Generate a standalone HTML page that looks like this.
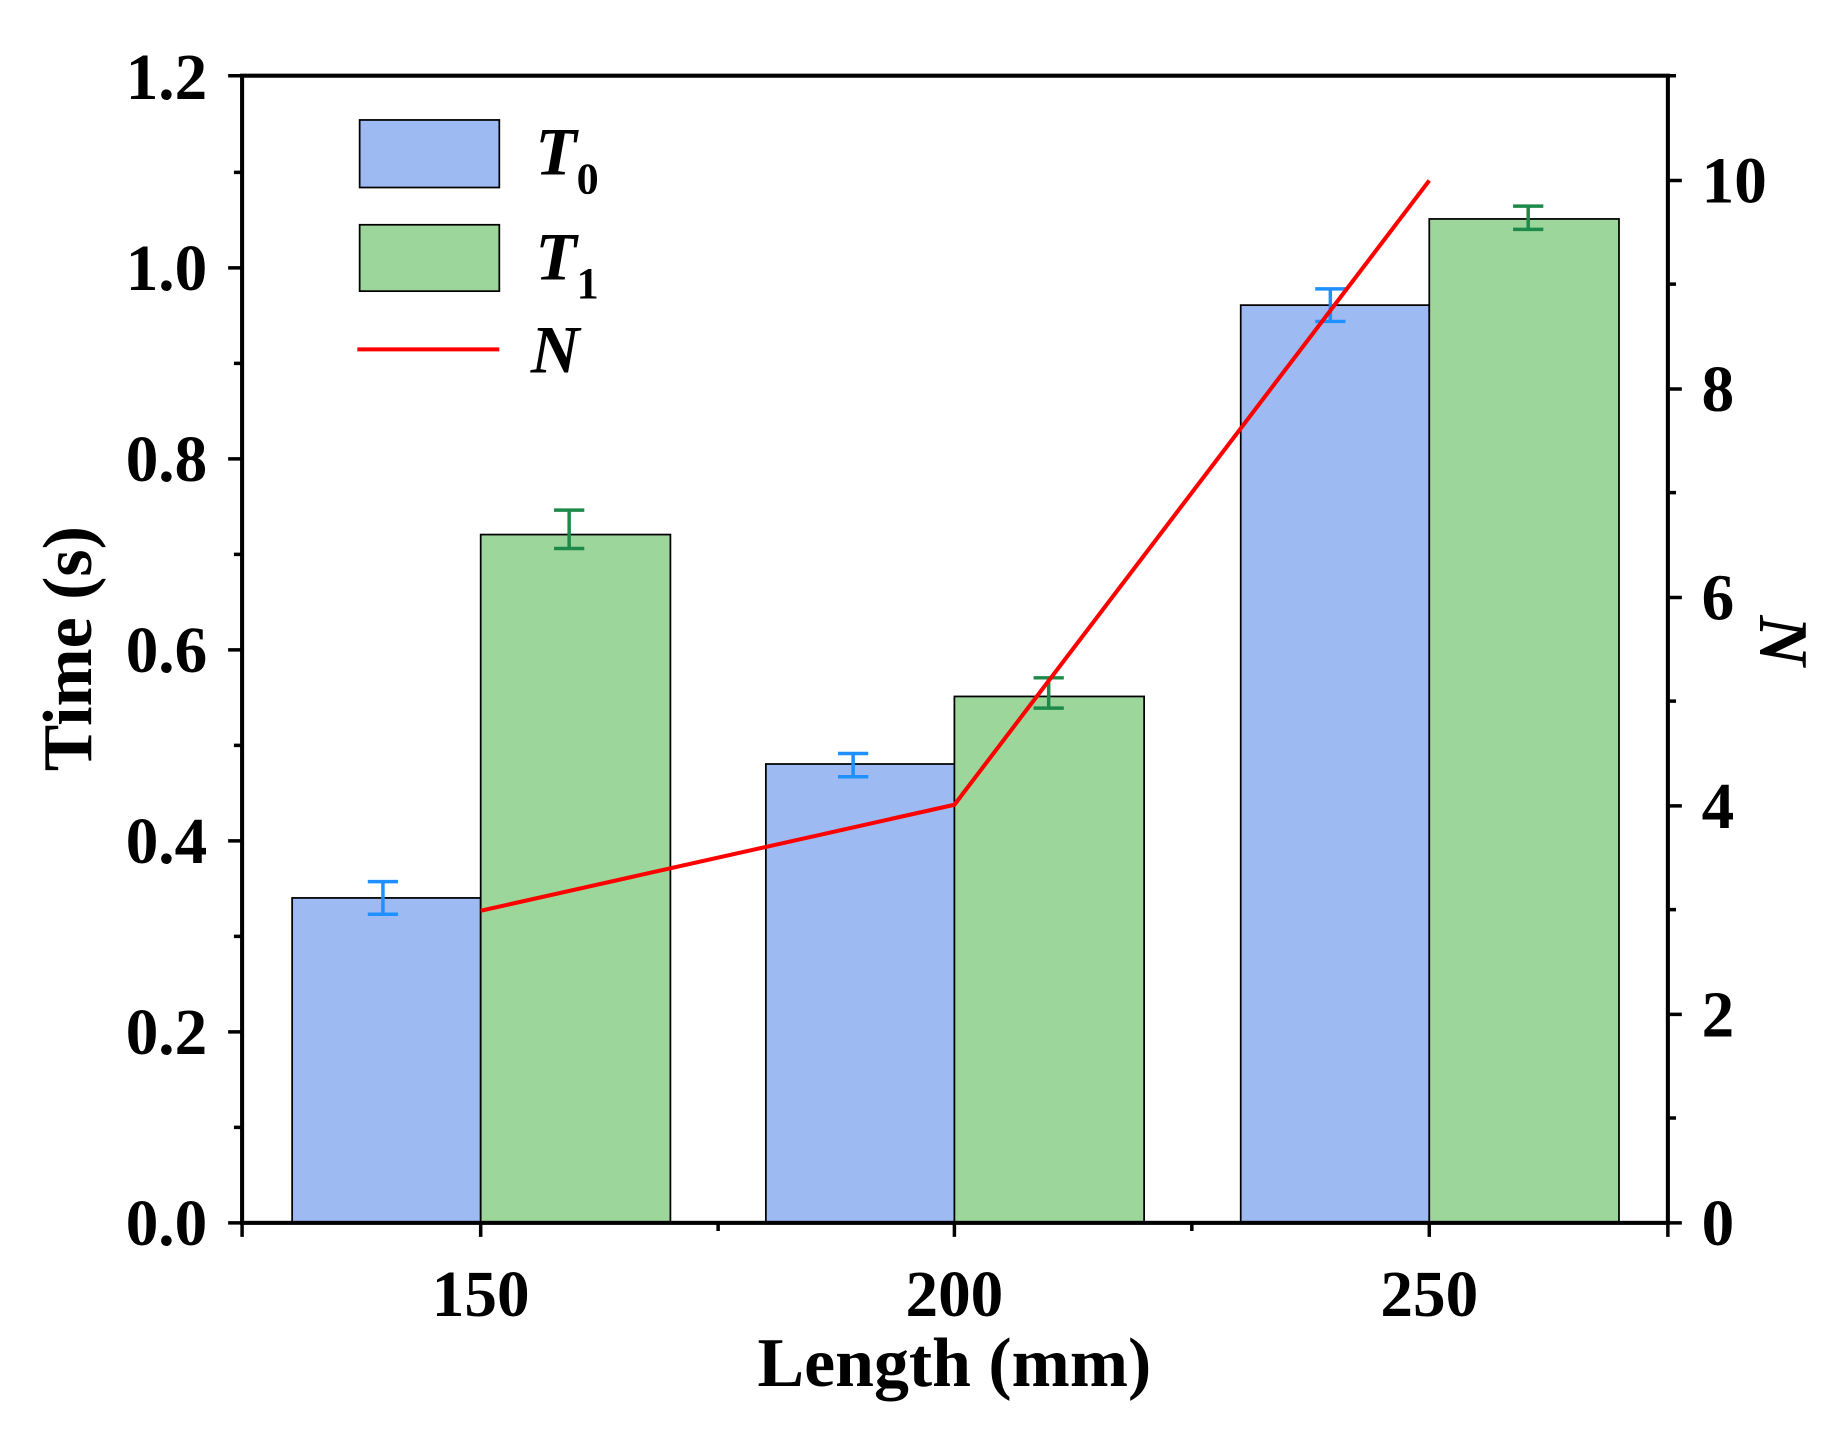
<!DOCTYPE html>
<html><head><style>html,body{margin:0;padding:0;background:#fff}svg{display:block}</style></head>
<body>
<svg width="1825" height="1429" viewBox="0 0 1568 1227" preserveAspectRatio="none" xmlns="http://www.w3.org/2000/svg" font-family="Liberation Serif, serif" font-weight="bold">
<rect width="1568" height="1227" fill="#fff"/>
<g stroke="#000" stroke-width="1.5">
<rect x="251" y="771" width="162" height="279" fill="#9dbbf2"/>
<rect x="413" y="459" width="163" height="591" fill="#9dd69b"/>
<rect x="658" y="656" width="162" height="394" fill="#9dbbf2"/>
<rect x="820" y="598" width="163" height="452" fill="#9dd69b"/>
<rect x="1066" y="262" width="162" height="788" fill="#9dbbf2"/>
<rect x="1228" y="188" width="163" height="862" fill="#9dd69b"/>
</g>
<g stroke="#1e90ff" stroke-width="3" fill="none">
<path d="M329 757V785M316 757H342M316 785H342"/>
<path d="M733 647V667M720 647H746M720 667H746"/>
<path d="M1143 248V276M1130 248H1156M1130 276H1156"/>
</g>
<g stroke="#1e8a4a" stroke-width="3" fill="none">
<path d="M489 438V471M476 438H502M476 471H502"/>
<path d="M901 582V608M888 582H914M888 608H914"/>
<path d="M1313 177V197M1300 177H1326M1300 197H1326"/>
</g>
<polyline points="413,782 820,691 1228,155" fill="none" stroke="#ff0000" stroke-width="3.5"/>
<rect x="208" y="65" width="1225" height="985" fill="none" stroke="#000" stroke-width="3.5"/>
<g stroke="#000" stroke-width="3">
<path d="M208 1050H196M208 886H196M208 722H196M208 558H196M208 394H196M208 230H196M208 65H196"/>
<path d="M208 968H201M208 804H201M208 640H201M208 476H201M208 312H201M208 148H201"/>
<path d="M1433 1050H1445M1433 871H1445M1433 692H1445M1433 513H1445M1433 334H1445M1433 155H1445"/>
<path d="M1433 960H1440M1433 781H1440M1433 602H1440M1433 423H1440M1433 244H1440M1433 65H1440"/>
<path d="M413 1050V1062M820 1050V1062M1228 1050V1062M208 1050V1062M1433 1050V1062"/>
<path d="M617 1050V1057M1024 1050V1057"/>
</g>
<g font-size="56" text-anchor="end">
<text x="178" y="1069">0.0</text>
<text x="178" y="905">0.2</text>
<text x="178" y="741">0.4</text>
<text x="178" y="577">0.6</text>
<text x="178" y="413">0.8</text>
<text x="178" y="249">1.0</text>
<text x="178" y="85">1.2</text>
</g>
<g font-size="56" text-anchor="start">
<text x="1462" y="1069">0</text>
<text x="1462" y="890">2</text>
<text x="1462" y="711">4</text>
<text x="1462" y="532">6</text>
<text x="1462" y="353">8</text>
<text x="1462" y="174">10</text>
</g>
<g font-size="56" text-anchor="middle">
<text x="413" y="1130">150</text>
<text x="820" y="1130">200</text>
<text x="1228" y="1130">250</text>
<text x="820" y="1190" font-size="60">Length (mm)</text>
</g>
<text transform="translate(78,557) rotate(-90)" font-size="60" text-anchor="middle">Time (s)</text>
<text transform="translate(1512,550) rotate(90)" font-size="60" font-style="italic" text-anchor="middle">N</text>
<rect x="309" y="103" width="120" height="58" fill="#9dbbf2" stroke="#000" stroke-width="1.5"/>
<rect x="309" y="193" width="120" height="57" fill="#9dd69b" stroke="#000" stroke-width="1.5"/>
<path d="M307 300H429" stroke="#ff0000" stroke-width="3.5"/>
<g font-size="58" font-style="italic">
<text x="460" y="150">T<tspan font-size="38" font-style="normal" dy="16">0</tspan></text>
<text x="460" y="240">T<tspan font-size="38" font-style="normal" dy="16">1</tspan></text>
<text x="456" y="320">N</text>
</g>
</svg>
</body></html>
